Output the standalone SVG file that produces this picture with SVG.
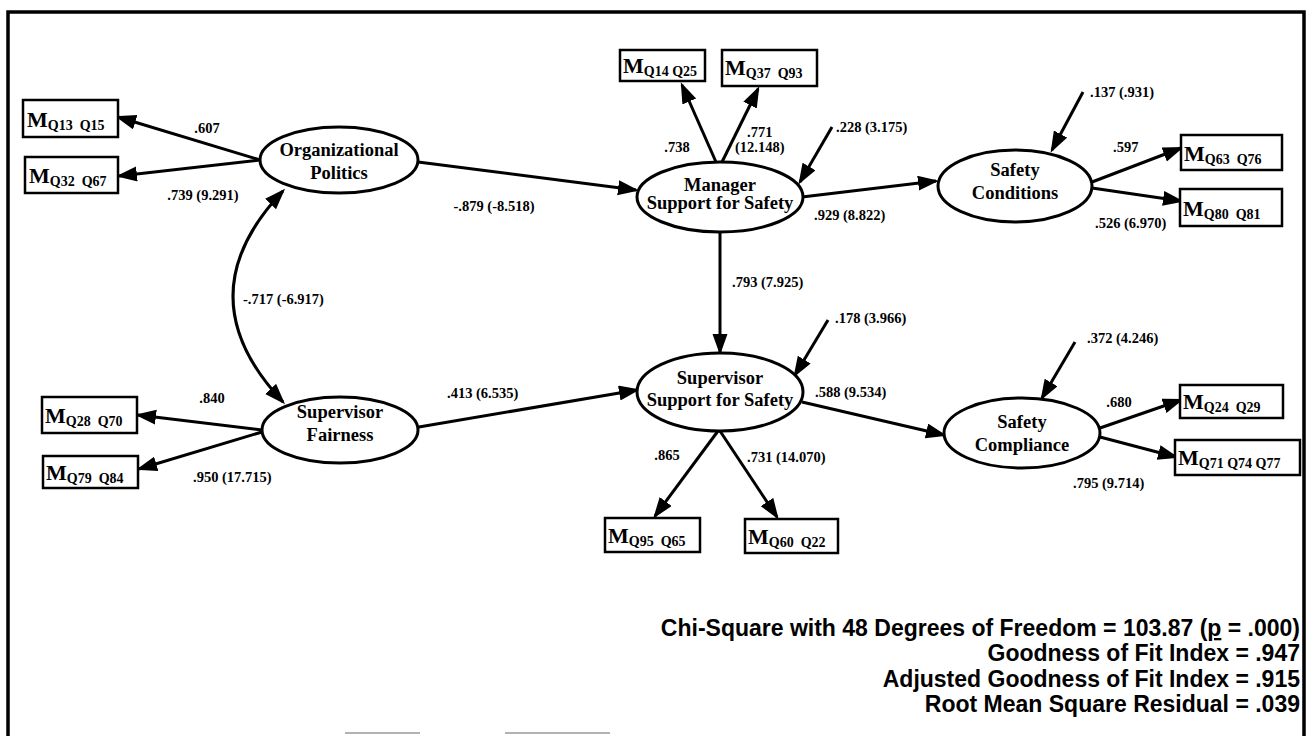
<svg xmlns="http://www.w3.org/2000/svg" width="1312" height="736" viewBox="0 0 1312 736">
<style>
.frame{stroke:#000;stroke-width:3.5;fill:none}
.frag{stroke:#999;stroke-width:1.5;fill:none}
.node ellipse{fill:#fff;stroke:#000;stroke-width:3}
.box rect{fill:#fff;stroke:#000;stroke-width:2.5}
.lbl{font-family:"Liberation Serif","Times New Roman",serif;font-weight:bold;font-size:18.5px;text-anchor:middle;fill:#000}
.m{font-family:"Liberation Serif","Times New Roman",serif;font-weight:bold;font-size:22px;fill:#000}
.sub{font-size:14px}
.conn line,.conn path{stroke:#000;stroke-width:3;fill:none;marker-end:url(#ah)}
.conn path.bi{marker-start:url(#ah)}
.coef{font-family:"Liberation Serif","Times New Roman",serif;font-weight:bold;font-size:14.5px;fill:#000}
.mid{text-anchor:middle}
.stat{font-family:"Liberation Sans",Arial,sans-serif;font-weight:bold;font-size:23px;text-anchor:end;fill:#000}
</style>
<defs>
<marker id="ah" markerUnits="userSpaceOnUse" markerWidth="22" markerHeight="16" refX="18" refY="7.5" orient="auto-start-reverse">
<path d="M0,0 L21,7.5 L0,15 Z" fill="#000"/>
</marker>
</defs>
<rect width="1312" height="736" fill="#fff"/>
<g id="frame">
<path class="frame" d="M8,736 L8,12 L1304,12 L1304,736"/>
<line class="frag" x1="345" y1="733" x2="420" y2="733"/>
<line class="frag" x1="505" y1="733" x2="610" y2="733"/>
</g>
<g id="connectors" class="conn">
<line x1="260" y1="160" x2="118" y2="117"/>
<line x1="260" y1="160" x2="119" y2="176"/>
<line x1="418" y1="162" x2="636" y2="190"/>
<line x1="716" y1="162" x2="682" y2="85"/>
<line x1="722" y1="162" x2="758" y2="89"/>
<line x1="832" y1="127" x2="800" y2="182"/>
<line x1="802" y1="197" x2="936" y2="181"/>
<line x1="1083" y1="92" x2="1052" y2="150"/>
<line x1="1092" y1="182" x2="1181" y2="148"/>
<line x1="1092" y1="188" x2="1181" y2="201"/>
<line x1="720" y1="232" x2="720" y2="352"/>
<line x1="828" y1="320" x2="795" y2="375"/>
<line x1="413" y1="428" x2="637" y2="390"/>
<line x1="262" y1="430" x2="138" y2="415"/>
<line x1="262" y1="432" x2="139" y2="469"/>
<line x1="718" y1="431" x2="655" y2="516"/>
<line x1="720" y1="431" x2="777" y2="517"/>
<line x1="802" y1="402" x2="944" y2="435"/>
<line x1="1075" y1="342" x2="1042" y2="398"/>
<line x1="1100" y1="428" x2="1181" y2="400"/>
<line x1="1100" y1="437" x2="1176" y2="457"/>
<path class="bi" d="M283,191 Q183,296 283,402"/>
</g>
<g id="coefficients" class="coef">
<text x="207" y="133" class="mid">.607</text>
<text x="203" y="200" class="mid">.739 (9.291)</text>
<text x="494" y="211" class="mid">-.879 (-8.518)</text>
<text x="243" y="304">-.717 (-6.917)</text>
<text x="677" y="152" class="mid">.738</text>
<text x="747" y="137">.771</text>
<text x="735" y="152">(12.148)</text>
<text x="836" y="132">.228 (3.175)</text>
<text x="814" y="220">.929 (8.822)</text>
<text x="1090" y="97">.137 (.931)</text>
<text x="1113" y="152">.597</text>
<text x="1095" y="228">.526 (6.970)</text>
<text x="732" y="287">.793 (7.925)</text>
<text x="835" y="323">.178 (3.966)</text>
<text x="447" y="398">.413 (6.535)</text>
<text x="212" y="403" class="mid">.840</text>
<text x="193" y="482">.950 (17.715)</text>
<text x="667" y="460" class="mid">.865</text>
<text x="747" y="462">.731 (14.070)</text>
<text x="815" y="397">.588 (9.534)</text>
<text x="1087" y="343">.372 (4.246)</text>
<text x="1119" y="407" class="mid">.680</text>
<text x="1073" y="488">.795 (9.714)</text>
</g>
<g id="n-org" class="node"><ellipse cx="339" cy="160" rx="79" ry="33"/><text class="lbl" x="339" y="156">Organizational</text><text class="lbl" x="339" y="179">Politics</text></g>
<g id="n-fair" class="node"><ellipse cx="340" cy="430" rx="78" ry="33"/><text class="lbl" x="340" y="418">Supervisor</text><text class="lbl" x="340" y="441">Fairness</text></g>
<g id="n-mgr" class="node"><ellipse cx="720" cy="197" rx="83" ry="35"/><text class="lbl" x="720" y="191">Manager</text><text class="lbl" x="720" y="209">Support for Safety</text></g>
<g id="n-sup" class="node"><ellipse cx="720" cy="392" rx="83" ry="39"/><text class="lbl" x="720" y="384">Supervisor</text><text class="lbl" x="720" y="406">Support for Safety</text></g>
<g id="n-cond" class="node"><ellipse cx="1015" cy="186" rx="77" ry="36"/><text class="lbl" x="1015" y="176">Safety</text><text class="lbl" x="1015" y="199">Conditions</text></g>
<g id="n-comp" class="node"><ellipse cx="1022" cy="433" rx="78" ry="35"/><text class="lbl" x="1022" y="428">Safety</text><text class="lbl" x="1022" y="451">Compliance</text></g>
<g id="b-q13" class="box"><rect x="23" y="100" width="95" height="37"/><text class="m" x="27" y="127">M<tspan class="sub" dy="3">Q13&#160;&#160;Q15</tspan></text></g>
<g id="b-q32" class="box"><rect x="25" y="157" width="93" height="36"/><text class="m" x="29" y="183">M<tspan class="sub" dy="3">Q32&#160;&#160;Q67</tspan></text></g>
<g id="b-q28" class="box"><rect x="42" y="397" width="95" height="36"/><text class="m" x="45" y="423">M<tspan class="sub" dy="3">Q28&#160;&#160;Q70</tspan></text></g>
<g id="b-q79" class="box"><rect x="43" y="456" width="95" height="32"/><text class="m" x="46" y="480">M<tspan class="sub" dy="3">Q79&#160;&#160;Q84</tspan></text></g>
<g id="b-q14" class="box"><rect x="620" y="50" width="85" height="31"/><text class="m" x="623" y="73">M<tspan class="sub" dy="3">Q14&#160;Q25</tspan></text></g>
<g id="b-q37" class="box"><rect x="722" y="50" width="95" height="36"/><text class="m" x="725" y="75">M<tspan class="sub" dy="3">Q37&#160;&#160;Q93</tspan></text></g>
<g id="b-q63" class="box"><rect x="1181" y="135" width="101" height="35"/><text class="m" x="1184" y="161">M<tspan class="sub" dy="3">Q63&#160;&#160;Q76</tspan></text></g>
<g id="b-q80" class="box"><rect x="1180" y="189" width="102" height="37"/><text class="m" x="1183" y="216">M<tspan class="sub" dy="3">Q80&#160;&#160;Q81</tspan></text></g>
<g id="b-q95" class="box"><rect x="605" y="518" width="95" height="34"/><text class="m" x="608" y="543">M<tspan class="sub" dy="3">Q95&#160;&#160;Q65</tspan></text></g>
<g id="b-q60" class="box"><rect x="745" y="519" width="93" height="34"/><text class="m" x="748" y="544">M<tspan class="sub" dy="3">Q60&#160;&#160;Q22</tspan></text></g>
<g id="b-q24" class="box"><rect x="1180" y="385" width="103" height="33"/><text class="m" x="1183" y="409">M<tspan class="sub" dy="3">Q24&#160;&#160;Q29</tspan></text></g>
<g id="b-q71" class="box"><rect x="1175" y="440" width="125" height="35"/><text class="m" x="1178" y="465">M<tspan class="sub" dy="3">Q71&#160;Q74&#160;Q77</tspan></text></g>
<g id="stats">
<text class="stat" x="1300" y="636">Chi-Square with 48 Degrees of Freedom = 103.87 (<tspan text-decoration="underline">p</tspan> = .000)</text>
<text class="stat" x="1300" y="661">Goodness of Fit Index = .947</text>
<text class="stat" x="1300" y="687">Adjusted Goodness of Fit Index = .915</text>
<text class="stat" x="1300" y="712">Root Mean Square Residual = .039</text>
</g>
</svg>
